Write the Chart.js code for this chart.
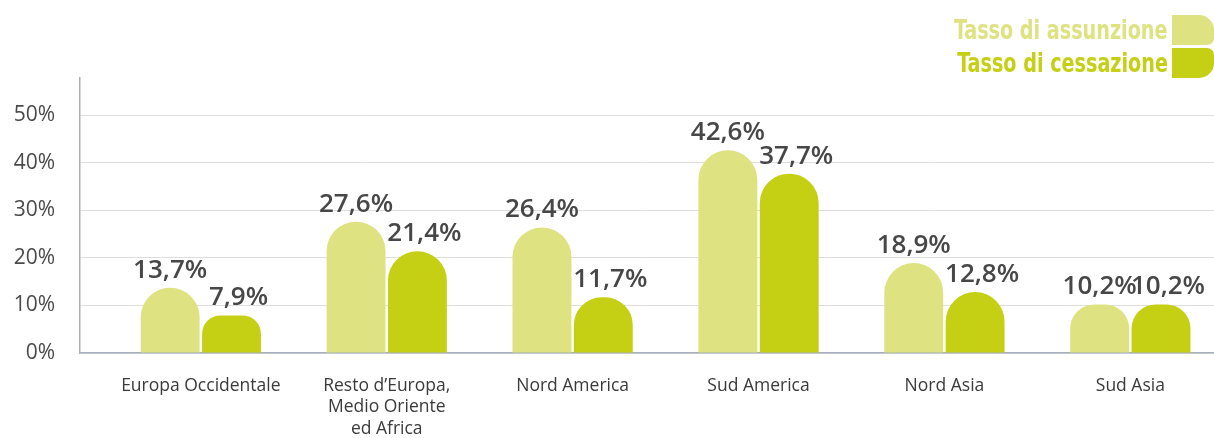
<!DOCTYPE html>
<html lang="it">
<head>
<meta charset="utf-8">
<title>Tasso di assunzione e cessazione</title>
<script src="https://cdn.jsdelivr.net/npm/chart.js@4.4.1/dist/chart.umd.min.js"></script>
<style>
    html, body { margin: 0; padding: 0; background: #fff; }
    #wrap { position: relative; width: 1214px; height: 438px; overflow: hidden; }
    #legend { position: absolute; top: 14px; right: 0; }
    .leg-row { display: flex; align-items: center; justify-content: flex-end; height: 31px; }
    .leg-row span {
        display: inline-block;
        font-family: "DejaVu Sans Condensed", "DejaVu Sans", sans-serif;
        font-weight: bold; font-size: 26px; margin-right: 4px;
        transform: scaleX(0.82); transform-origin: right center;
        white-space: nowrap;
    }
    .sw { width: 42px; height: 30px; }
</style>
</head>
<body>
<div id="wrap">
    <canvas id="chart" width="1214" height="438"></canvas>
    <div id="legend"></div>
</div>
<script>
// dati
const categories = [
    ['Europa Occidentale'],
    ['Resto d\u2019Europa,', 'Medio Oriente', 'ed Africa'],
    ['Nord America'],
    ['Sud America'],
    ['Nord Asia'],
    ['Sud Asia']
];
const assunzione = [13.7, 27.6, 26.4, 42.6, 18.9, 10.2];
const cessazione = [7.9, 21.4, 11.7, 37.7, 12.8, 10.2];
const yTicks = [0, 10, 20, 30, 40, 50];

const colLight = 'rgb(222, 226, 128)';
const colDark = 'rgb(197, 208, 20)';

// legenda html
const legend = document.getElementById('legend');
[
    { text: 'Tasso di assunzione', color: colLight, radius: '0 15px 7px 0' },
    { text: 'Tasso di cessazione', color: colDark, radius: '0 7px 15px 0' }
].forEach((item, i) => {
    const row = document.createElement('div');
    row.className = 'leg-row';
    if (i === 1) row.style.marginTop = '2px';
    const label = document.createElement('span');
    label.textContent = item.text;
    label.style.color = item.color;
    const sw = document.createElement('div');
    sw.className = 'sw';
    sw.style.background = item.color;
    sw.style.borderRadius = item.radius;
    row.appendChild(label);
    row.appendChild(sw);
    legend.appendChild(row);
});

const fmt = v => v.toFixed(1).replace('.', ',') + '%';

// etichette sopra le barre
const valueLabels = {
    id: 'valueLabels',
    afterDatasetsDraw(chart) {
        const ctx = chart.ctx;
        ctx.save();
        ctx.font = '600 26px "Open Sans", sans-serif';
        ctx.fillStyle = '#474747';
        ctx.textAlign = 'center';
        ctx.textBaseline = 'alphabetic';
        chart.data.datasets.forEach((ds, di) => {
            const meta = chart.getDatasetMeta(di);
            const dx = di === 0 ? 0 : 7;
            meta.data.forEach((bar, i) => {
                ctx.fillText(fmt(ds.data[i].y), bar.x + dx, bar.y - 10);
            });
        });
        ctx.restore();
    }
};

const barStyle = {
    categoryPercentage: 0.66,
    barPercentage: 0.96,
    borderRadius: { topLeft: 30, topRight: 30 },
    borderSkipped: 'start'
};

new Chart(document.getElementById('chart').getContext('2d'), {
    type: 'bar',
    data: {
        datasets: [
            Object.assign({
                label: 'Tasso di assunzione',
                data: assunzione.map((v, i) => ({ x: i, y: v })),
                backgroundColor: colLight
            }, barStyle),
            Object.assign({
                label: 'Tasso di cessazione',
                data: cessazione.map((v, i) => ({ x: i, y: v })),
                backgroundColor: colDark
            }, barStyle)
        ]
    },
    options: {
        responsive: false,
        animation: false,
        layout: { padding: { top: 78, right: 0, left: 0, bottom: 0 } },
        plugins: {
            legend: { display: false },
            tooltip: { enabled: false }
        },
        scales: {
            x: {
                type: 'linear',
                offset: false,
                min: -0.65,
                max: 5.45,
                afterBuildTicks: scale => {
                    scale.ticks = categories.map((c, i) => ({ value: i }));
                },
                afterFit: scale => { scale.height = 85; },
                grid: { display: false, drawTicks: false, offset: false },
                border: { color: '#a7afbd', width: 1.5 },
                ticks: {
                    autoSkip: false,
                    maxRotation: 0,
                    padding: 22,
                    color: '#3a3a3a',
                    font: { family: 'Open Sans', size: 17.5, lineHeight: 1.23 },
                    callback: value => categories[value]
                }
            },
            y: {
                min: 0,
                max: 57.8,
                afterBuildTicks: scale => {
                    scale.ticks = yTicks.map(v => ({ value: v }));
                },
                afterFit: scale => { scale.width = 80; },
                grid: { color: '#dedede', drawTicks: false },
                border: { color: '#a7afbd', width: 1.5 },
                ticks: {
                    padding: 25,
                    color: '#4a4a4a',
                    font: { family: 'Open Sans', size: 21 },
                    callback: v => v + '%'
                }
            }
        }
    },
    plugins: [valueLabels]
});
</script>
</body>
</html>
